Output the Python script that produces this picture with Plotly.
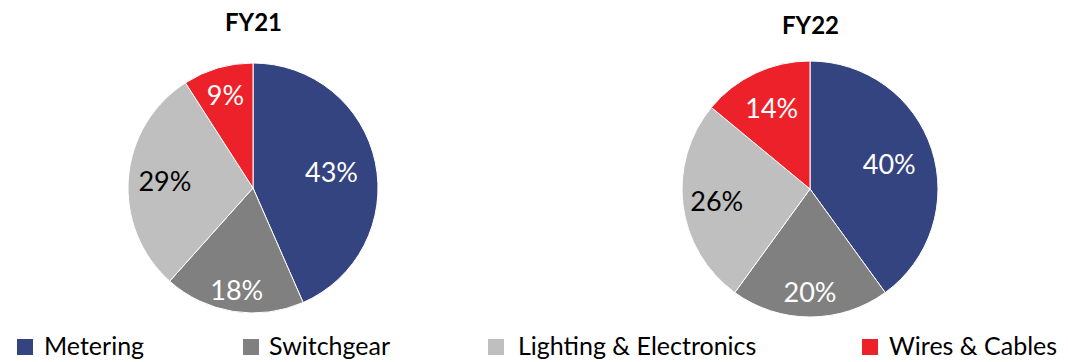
import plotly.graph_objects as go

categories = ["Metering", "Switchgear", "Lighting & Electronics", "Wires & Cables"]
fy21_values = [43, 18, 29, 9]
fy22_values = [40, 20, 26, 14]
years = ["FY21", "FY22"]

colors = ["#344480", "#808080", "#BFBFBF", "#ED2129"]
text_colors = ["white", "white", "black", "white"]
FONT = "Lato"
W, H = 1068, 362

# pie centres / radii in pixels (layout only)
pies = [dict(cx=253, cy=188, r=125), dict(cx=810, cy=189, r=128)]
BIG_LABEL_SCALE = 1.27   # labels of large slices sit further out than Plotly's default
SMALL_SLICE = 15         # slices below this share keep Plotly's own placement


def dom(cx, cy, r):
    return dict(x=[(cx - r) / W, (cx + r) / W], y=[1 - (cy + r) / H, 1 - (cy - r) / H])


fig = go.Figure()
for p, vals in zip(pies, [fy21_values, fy22_values]):
    # visible pie
    fig.add_trace(go.Pie(
        labels=categories, values=vals, sort=False, direction="clockwise", rotation=0,
        marker=dict(colors=colors, line=dict(color="white", width=1)),
        textinfo="none", domain=dom(p["cx"], p["cy"], p["r"]),
        showlegend=False, hoverinfo="label+value",
    ))
    # transparent pies that only carry the percentage labels
    for scale, pick in [(BIG_LABEL_SCALE, lambda v: v >= SMALL_SLICE),
                        (1.0, lambda v: v < SMALL_SLICE)]:
        fig.add_trace(go.Pie(
            labels=categories, values=vals, sort=False, direction="clockwise", rotation=0,
            marker=dict(colors=["rgba(0,0,0,0)"] * len(vals), line=dict(width=0)),
            texttemplate=["%{value}%" if pick(v) else "" for v in vals],
            textposition="inside", insidetextorientation="horizontal",
            insidetextfont=dict(color=text_colors, size=27, family=FONT),
            domain=dom(p["cx"], p["cy"], p["r"] * scale),
            showlegend=False, hoverinfo="skip",
        ))

title_pos = [(253, 22), (810, 25)]
for yr, (cx, cy) in zip(years, title_pos):
    fig.add_annotation(text="<b>" + yr + "</b>", x=cx / W, y=1 - cy / H, xref="paper", yref="paper",
                       xanchor="center", yanchor="middle", showarrow=False,
                       font=dict(size=24, family=FONT, color="black"))

# custom legend (square swatch + label)
legend_sq_x = [17, 243, 488, 862]
legend_txt_x = [42, 267, 516, 887]
for cat, col, sx, tx in zip(categories, colors, legend_sq_x, legend_txt_x):
    fig.add_shape(type="rect", xref="paper", yref="paper",
                  x0=sx / W, x1=(sx + 16) / W, y0=1 - 355 / H, y1=1 - 339 / H,
                  fillcolor=col, line=dict(width=0))
    fig.add_annotation(text=cat, x=tx / W, y=1 - 345 / H, xref="paper", yref="paper",
                       xanchor="left", yanchor="middle", showarrow=False,
                       font=dict(size=25, family=FONT, color="black"))

fig.update_layout(
    width=W, height=H, margin=dict(l=0, r=0, t=0, b=0),
    paper_bgcolor="white", plot_bgcolor="white",
    font=dict(family=FONT, size=22, color="black"),
    uniformtext=dict(minsize=27, mode="show"),
    showlegend=False,
)
fig.write_html("out.html")
